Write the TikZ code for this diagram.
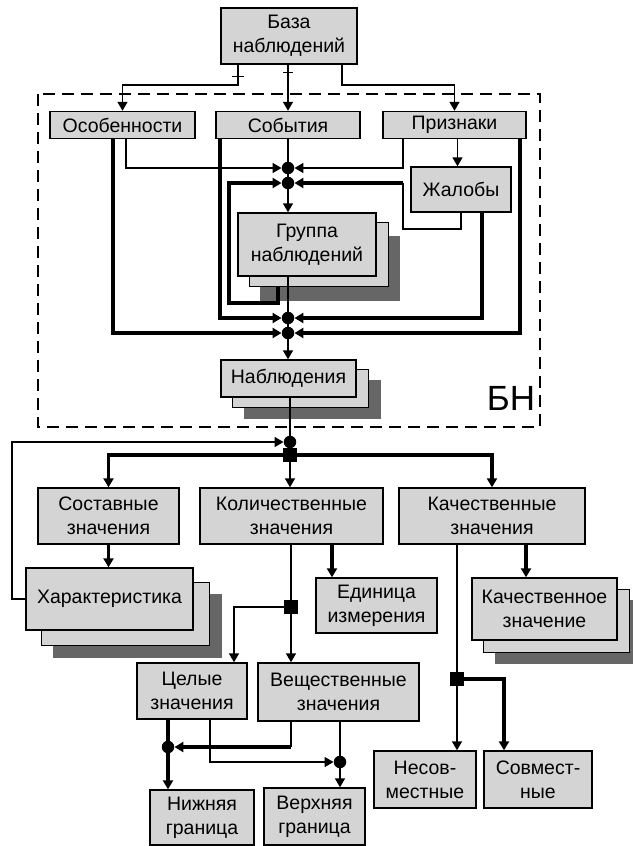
\documentclass[tikz,border=0pt]{standalone}
\usepackage{fontspec}
\setmainfont{Liberation Sans}
\usetikzlibrary{arrows.meta}

\definecolor{boxfill}{RGB}{212,212,212}
\definecolor{shadowgray}{RGB}{102,102,102}
\newcommand{\boxfont}{\fontsize{19.5}{24}\selectfont}

\pgfdeclarelayer{back}
\pgfsetlayers{back,main}

\tikzset{
  box/.style={draw=black, fill=boxfill, line width=1.4pt, inner sep=0pt, align=center, font=\boxfont},
  ln/.style={line width=1.5pt},
  thk/.style={line width=3.2pt},
  tip/.style={-{Triangle[length=9pt,width=10pt]}},
  dot/.style={circle, fill=black, inner sep=0pt, minimum size=12.5pt},
  tinydot/.style={circle, fill=black, inner sep=0pt, minimum size=5pt},
  sq/.style={rectangle, fill=black, inner sep=0pt, minimum size=14pt},
  groupframe/.style={dash pattern=on 12pt off 7pt, line width=1.4pt},
}

% копия и тень под узлом
\newcommand{\stacklayers}[3]{%
  \begin{pgfonlayer}{back}
    \fill[shadowgray] ([shift={#3}]#1.north west) rectangle ([shift={#3}]#1.south east);
    \filldraw[box] ([shift={#2}]#1.north west) rectangle ([shift={#2}]#1.south east);
  \end{pgfonlayer}}

\begin{document}
\begin{tikzpicture}[x=1pt,y=-1pt]
    \useasboundingbox (0,0) rectangle (632,846);

    % блоки
    \node[box, minimum width=136pt, minimum height=56pt] (base) at (289,36) {База\\наблюдений};
    \node[box, minimum width=145pt, minimum height=27pt] (osob) at (122.5,125) {Особенности};
    \node[box, minimum width=144pt, minimum height=27pt] (sobyt) at (288,125) {События};
    \node[box, minimum width=143pt, minimum height=27pt] (prizn) at (454.5,125) {Признаки};
    \node[box, minimum width=100pt, minimum height=45pt] (zhal) at (461,189.5) {Жалобы};
    \node[box, minimum width=138pt, minimum height=63pt] (grup) at (307,244.5) {Группа\\наблюдений};
    \node[box, minimum width=135pt, minimum height=37pt] (nabl) at (288.5,378.5) {Наблюдения};
    \node[font=\fontsize{35}{35}\selectfont] (bn) at (511,398) {БН};

    \node[box, minimum width=141pt, minimum height=56pt] (sost) at (108.5,516) {Составные\\значения};
    \node[box, minimum width=183pt, minimum height=56pt] (kolich) at (291.5,516) {Количественные\\значения};
    \node[box, minimum width=186pt, minimum height=56pt] (kachest) at (492,516) {Качественные\\значения};
    \node[box, minimum width=167pt, minimum height=62pt] (harakt) at (109.5,599) {Характеристика};
    \node[box, minimum width=121pt, minimum height=55pt] (edin) at (376.5,605.5) {Единица\\измерения};
    \node[box, minimum width=145pt, minimum height=62pt] (kachzn) at (544.5,609) {Качественное\\значение};
    \node[box, minimum width=110pt, minimum height=56pt] (celye) at (192,691) {Целые\\значения};
    \node[box, minimum width=161pt, minimum height=58pt] (veshch) at (338.5,692) {Вещественные\\значения};
    \node[box, minimum width=102pt, minimum height=57pt] (nesov) at (425,779.5) {Несов-\\местные};
    \node[box, minimum width=108pt, minimum height=57pt] (sovm) at (538,779.5) {Совмест-\\ные};
    \node[box, minimum width=104pt, minimum height=55pt] (nizh) at (202,817.5) {Нижняя\\граница};
    \node[box, minimum width=101pt, minimum height=57pt] (verh) at (314.5,816.5) {Верхняя\\граница};

    \stacklayers{grup}{(12,10)}{(23,24)}
    \stacklayers{nabl}{(12,10)}{(24,21)}
    \stacklayers{harakt}{(16,15)}{(28,27)}
    \stacklayers{kachzn}{(12,12)}{(24,23)}

    % узлы слияния
    \node[dot] (j1a) at (288,168) {};
    \node[dot] (j1b) at (288,183) {};
    \node[dot] (j2a) at (288,318) {};
    \node[dot] (j2b) at (288,333) {};
    \node[dot] (j3) at (290,442) {};
    \node[sq] (s3) at (290,455) {};
    \node[sq] (s4) at (291,607) {};
    \node[sq] (s5) at (457,679) {};
    \node[dot] (j6) at (168,747) {};
    \node[dot] (j7) at (340,762) {};
    \node[tinydot] (x1) at (220,168) {};
    \node[tinydot] (x2) at (210,747) {};

    \coordinate (busT) at (0,85);
    \coordinate (zc) at (403,229);
    \coordinate (gl) at (229,303);
    \coordinate (fb) at (12,442);

    % от базы
    \draw[ln,tip] ([xshift=-51pt]base.south) |- (busT -| osob.north) -- (osob.north);
    \draw[ln,tip] (sobyt.north |- base.south) -- (sobyt.north);
    \draw[ln,tip] ([xshift=53pt]base.south) |- (busT -| prizn.north) -- (prizn.north);
    \draw[ln] ([shift={(-57,12)}]base.south) -- ([shift={(-45,12)}]base.south);
    \draw[ln] ([shift={(-6,8)}]base.south) -- ([shift={(4,8)}]base.south);

    % внутри БН
    \draw[ln,tip] ([xshift=3.5pt]osob.south) |- (j1a);
    \draw[ln,tip] ([xshift=-51.5pt]prizn.south) |- (j1a);
    \draw[ln] (sobyt.south) -- (j1a);
    \draw[ln] (j1a) -- (j1b);
    \draw[ln,tip] (j1b) -- (j1b |- grup.north);
    \draw[ln,tip] ([xshift=3pt]prizn.south) -- ([xshift=3pt]prizn.south |- zhal.north);
    \draw[ln] (zhal.south) |- (zc) -- (zc |- j1b);
    \draw[thk,tip] (zc |- j1b) -- (j1b);
    \draw[thk,tip] ([xshift=21pt]zhal.south) |- (j2a);
    \draw[thk,tip] ([xshift=65.5pt]prizn.south) |- (j2b);
    \draw[thk,tip] ([xshift=-9.5pt]osob.south) |- (j2b);
    \draw[thk,tip] ([xshift=-68pt]sobyt.south) |- (j2a);
    \draw[thk,tip] ([shift={(-29,10)}]grup.south) |- (gl) |- (j1b);
    \draw[ln] (j2a |- grup.south) -- (j2a);
    \draw[ln] (j2a) -- (j2b);
    \draw[ln,tip] (j2b) -- (j2b |- nabl.north);

    % рамка БН
    \draw[groupframe] (38,94) rectangle (540,427);

    % значения
    \draw[ln] (j3 |- nabl.south) -- (j3);
    \draw[ln] (j3) -- (s3);
    \draw[ln,tip] (harakt.west) -| (fb) -- (j3);
    \draw[thk,tip] (s3) -| (sost.north);
    \draw[thk,tip] (s3) -| (kachest.north);
    \draw[ln,tip] (s3) -- (s3 |- kolich.north);
    \draw[thk,tip] (sost.south) -- (sost.south |- harakt.north);
    \draw[thk,tip] ([xshift=40.5pt]kolich.south) -- ([xshift=40.5pt]kolich.south |- edin.north);
    \draw[ln] (s4 |- kolich.south) -- (s4);
    \draw[ln,tip] (s4) -- (s4 |- veshch.north);
    \draw[ln,tip] (s4) -| ([xshift=42pt]celye.north);
    \draw[thk,tip] ([xshift=34pt]kachest.south) -- ([xshift=34pt]kachest.south |- kachzn.north);
    \draw[ln] (s5 |- kachest.south) -- (s5);
    \draw[ln,tip] (s5) -- (s5 |- nesov.north);
    \draw[thk,tip] (s5) -| ([xshift=-34pt]sovm.north);

    % границы
    \draw[thk] (j6 |- celye.south) -- (j6);
    \draw[thk,tip] (j6) -- (j6 |- nizh.north);
    \draw[ln,tip] ([xshift=18pt]celye.south) |- (j7);
    \draw[ln] ([xshift=-47.5pt]veshch.south) -- ([xshift=-47.5pt]veshch.south |- j6);
    \draw[thk,tip] ([xshift=-47.5pt]veshch.south |- j6) -- (j6);
    \draw[ln] (j7 |- veshch.south) -- (j7);
    \draw[ln,tip] (j7) -- (j7 |- verh.north);

\end{tikzpicture}
\end{document}
